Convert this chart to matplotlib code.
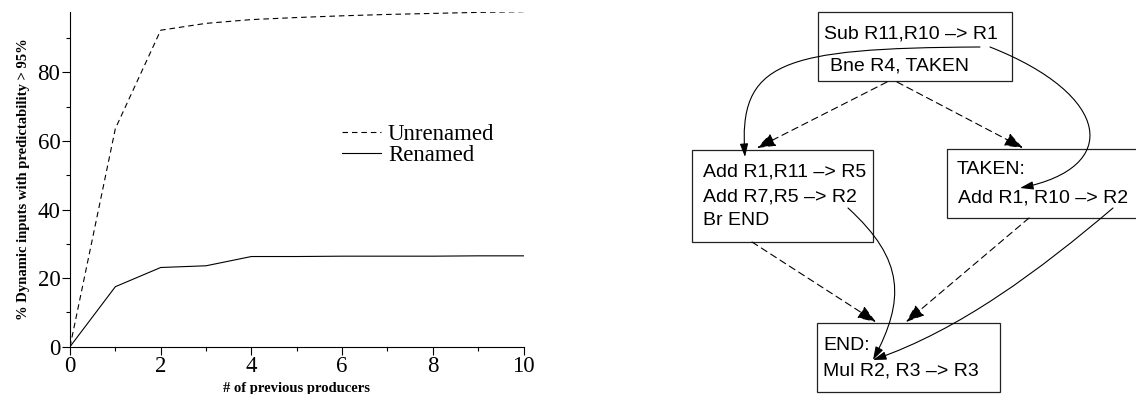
import matplotlib.pyplot as plt
from matplotlib.patches import Rectangle, FancyArrowPatch
from matplotlib.path import Path

# left chart data
producers = [0, 1, 2, 3, 4, 5, 6, 7, 8, 9, 10]
unrenamed = [0, 63.6, 92.3, 94.3, 95.4, 96.0, 96.5, 96.9, 97.2, 97.5, 97.7]
renamed = [0, 17.5, 23.1, 23.6, 26.3, 26.3, 26.4, 26.4, 26.4, 26.5, 26.5]
x_ticks = [0, 2, 4, 6, 8, 10]
y_ticks = [0, 20, 40, 60, 80]

# right diagram: code blocks (text lines)
block_top = ["Sub R11,R10 \u2013> R1", "Bne R4, TAKEN"]
block_left = ["Add R1,R11 \u2013> R5", "Add R7,R5 \u2013> R2", "Br END"]
block_taken = ["TAKEN:", "Add R1, R10 \u2013> R2"]
block_end = ["END:", "Mul R2, R3 \u2013> R3"]

serif = "Liberation Serif"
sans = "Liberation Sans"

fig = plt.figure(figsize=(11.36, 3.94), dpi=100)

# ---- line chart ----
ax = fig.add_axes([70 / 1136, 47.3 / 394, 453.5 / 1136, 335 / 394])
ax.plot(producers, unrenamed, color="black", lw=0.8, ls=(0, (5, 3.5)), label="Unrenamed")
ax.plot(producers, renamed, color="black", lw=0.8, label="Renamed")
ax.set_xlim(0, 10)
ax.set_ylim(0, 97.7)
ax.set_xticks(x_ticks)
ax.set_yticks(y_ticks)
ax.set_xticks(range(0, 11), minor=True)
ax.set_yticks(range(0, 100, 10), minor=True)
ax.tick_params(which="major", length=6, width=0.8, labelsize=16.5, pad=1)
ax.tick_params(which="minor", length=3, width=0.8)
for lab in ax.get_xticklabels() + ax.get_yticklabels():
    lab.set_family(serif)
for s in ["top", "right"]:
    ax.spines[s].set_visible(False)
for s in ["left", "bottom"]:
    ax.spines[s].set_linewidth(0.8)
ax.set_xlabel("# of previous producers", family=serif, fontweight="bold", fontsize=10.5)
ax.set_ylabel("% Dynamic inputs with predictability > 95%", family=serif,
              fontweight="bold", fontsize=10.5)
ax.xaxis.set_label_coords(0.5, -0.105)
ax.yaxis.set_label_coords(-0.088, 0.5)
leg = ax.legend(loc="upper left", bbox_to_anchor=(0.6, 0.665), frameon=False,
                prop={"family": serif, "size": 16.5}, handlelength=1.7,
                handletextpad=0.3, labelspacing=0.0, borderpad=0, borderaxespad=0)

# ---- control flow diagram (pixel coordinates) ----
dx = fig.add_axes([660 / 1136, 0, 476 / 1136, 1])
dx.set_xlim(660, 1136)
dx.set_ylim(394, 0)
dx.axis("off")

boxes = [
    (818, 12, 194, 69, block_top, [(824, 34), (830, 66)]),
    (692, 150, 181, 92, block_left, [(703, 172), (703, 197), (703, 220)]),
    (947, 149, 200, 69, block_taken, [(957, 169), (958, 198)]),
    (817, 323, 183, 69, block_end, [(823, 346), (823, 371)]),
]
for x, y, w, h, lines, pos in boxes:
    dx.add_patch(Rectangle((x, y), w, h, fill=False, ec="#222222", lw=0.9, clip_on=True))
    for txt, (tx, ty) in zip(lines, pos):
        dx.text(tx, ty, txt, family=sans, fontsize=14, ha="left", va="center")

dashed = [((887, 82), (757, 148)), ((897, 82), (1023, 148)),
          ((752, 242), (876, 322)), ((1029, 218), (906, 322))]
for p0, p1 in dashed:
    dx.add_patch(FancyArrowPatch(p0, p1, arrowstyle="-|>,head_length=0.95,head_width=0.35",
                                 mutation_scale=12, color="black", lw=0.8,
                                 ls=(0, (6, 4)), shrinkA=0, shrinkB=0))

curves = [
    [(980, 47), (780, 48), (738, 62), (745, 157)],
    [(990, 47), (1112, 95), (1122, 168), (1020, 188)],
    [(848, 208), (905, 260), (905, 300), (873, 360)],
    [(1113, 208), (1040, 270), (960, 330), (873, 360)],
]
for pts in curves:
    path = Path(pts, [Path.MOVETO, Path.CURVE4, Path.CURVE4, Path.CURVE4])
    dx.add_patch(FancyArrowPatch(path=path, arrowstyle="-|>,head_length=0.8,head_width=0.25",
                                 mutation_scale=10, color="black", lw=0.8))

fig.savefig("out.png", dpi=100)
